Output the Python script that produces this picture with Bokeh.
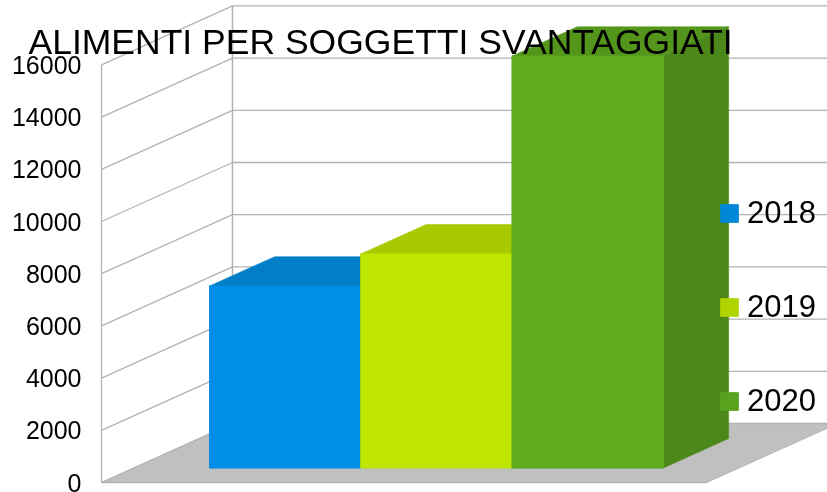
from bokeh.plotting import figure
from bokeh.embed import file_html
from bokeh.resources import INLINE
from bokeh.models import Label, Legend, LegendItem, FixedTicker, Range1d, LinearAxis

title = "ALIMENTI PER SOGGETTI SVANTAGGIATI"
years = ["2018", "2019", "2020"]
values = [6970, 8200, 15780]
ticks = [0, 2000, 4000, 6000, 8000, 10000, 12000, 14000, 16000]
front = ["#008FE8", "#BFE600", "#5FAD1F"]
top = ["#007FC8", "#A8C800", "#54961B"]
side = ["#006BAA", "#8FAA00", "#4C8719"]
swatch = ["#0088D8", "#B0D400", "#58A31E"]

W, H = 827, 492
X0, Y0 = 101, 482                # projected origin, px
SLOT = 151.3                     # px per category slot
PX_PER_UNIT = 52.2 / 2000
DX, DY = 131 / SLOT, 59 / PX_PER_UNIT   # full depth of the floor
GREY, FLOOR = "#B3B3B3", "#C0C0C0"

def px(u, d=0.0):
    return u + d * DX
def py(v, d=0.0):
    return v + d * DY

p = figure(width=W, height=H, output_backend="svg", toolbar_location=None,
           min_border_left=0, min_border_right=0, min_border_top=0, min_border_bottom=0,
           outline_line_color=None, x_axis_location=None, y_axis_location=None)
p.styles = {"position": "fixed", "left": "0px", "top": "0px"}
p.x_range = Range1d(-X0 / SLOT, (W - X0) / SLOT)
p.y_range = Range1d(-(H - Y0) / PX_PER_UNIT, Y0 / PX_PER_UNIT)
p.grid.visible = False
ax = LinearAxis(fixed_location=px(0))
ax.ticker = FixedTicker(ticks=ticks)
ax.axis_line_color = None
ax.major_tick_line_color = None
ax.minor_tick_line_color = None
ax.major_tick_out = 0
ax.major_tick_in = 0
ax.major_label_text_font = "Liberation Sans"
ax.major_label_text_font_size = "25px"
ax.major_label_text_color = "#000000"
ax.major_label_standoff = 20
p.add_layout(ax, "left")

# floor
fw = 4
p.patch([px(0), px(fw), px(fw, 1), px(0, 1)], [py(0), py(0), py(0, 1), py(0, 1)],
        fill_color=FLOOR, line_color=GREY, line_width=1)

# walls and grid
for t in ticks:
    p.line([px(0), px(0, 1), px(6, 1)], [py(t), py(t, 1), py(t, 1)], line_color=GREY, line_width=1.3)
p.line([px(0), px(0)], [py(0), py(ticks[-1])], line_color=GREY, line_width=1.3)
p.line([px(0, 1), px(0, 1)], [py(0, 1), py(ticks[-1], 1)], line_color=GREY, line_width=1.5)
p.line([px(0), px(fw)], [py(0), py(0)], line_color=GREY, line_width=1.3)

# bars
d0, d1 = 0.247, 0.745
renderers = []
for i, v in enumerate(values):
    a, b = 0.5 + i, 1.5 + i
    p.patch([px(a, d0), px(b, d0), px(b, d1), px(a, d1)], [py(v, d0), py(v, d0), py(v, d1), py(v, d1)],
            fill_color=top[i], line_color=top[i], line_width=0.5)
    p.patch([px(b, d0), px(b, d1), px(b, d1), px(b, d0)], [py(0, d0), py(0, d1), py(v, d1), py(v, d0)],
            fill_color=side[i], line_color=side[i], line_width=0.5)
    xs = [px(a, d0), px(b, d0), px(b, d0), px(a, d0)]
    ys = [py(0, d0), py(0, d0), py(v, d0), py(v, d0)]
    renderers.append(p.patch(xs, ys, fill_color=swatch[i], line_color=swatch[i]))
    p.patch(xs, ys, fill_color=front[i], line_color=front[i], line_width=0.5)

p.add_layout(Label(x=28, y=41, x_units="canvas", y_units="canvas", text=title,
                   text_font="Liberation Sans", text_font_size="35.5px", text_color="#000000",
                   text_baseline="alphabetic"))

legend = Legend(items=[LegendItem(label=y, renderers=[r]) for y, r in zip(years, renderers)],
                location=(718, 73), orientation="vertical", spacing=58,
                glyph_width=22, glyph_height=22, label_text_font="Liberation Sans",
                label_text_font_size="31px", label_text_color="#000000", label_standoff=7,
                background_fill_alpha=0, border_line_color=None, padding=0, margin=0)
p.add_layout(legend, "center")

open("out.html", "w").write(file_html(p, INLINE))
